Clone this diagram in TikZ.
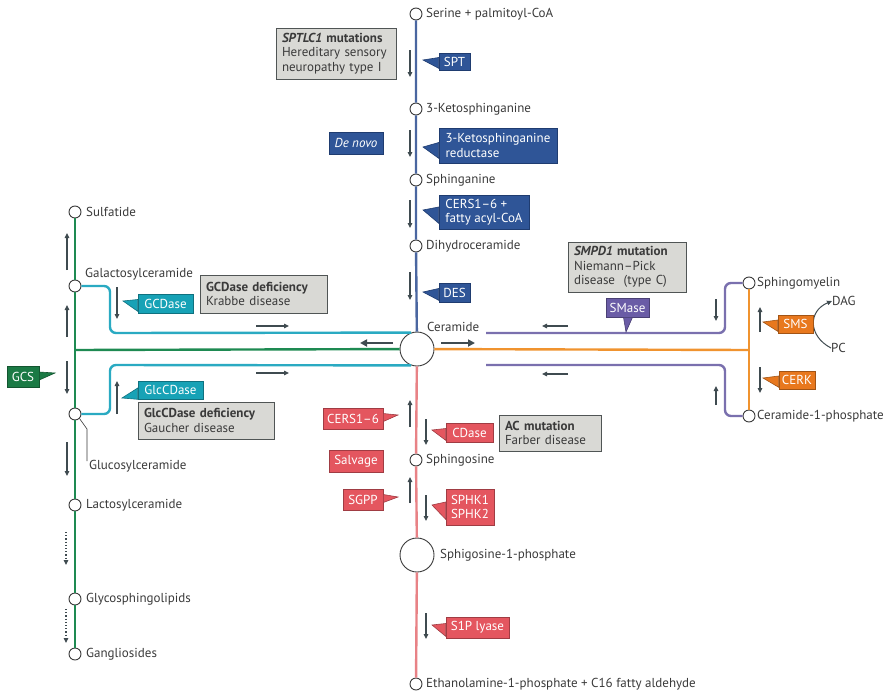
\documentclass[tikz,border=0pt]{standalone}
\usepackage{fontspec}
\setmainfont{PT Sans}
\usetikzlibrary{arrows.meta}

\newcommand{\labfont}{\fontsize{13}{14.5}\selectfont}

\definecolor{txt}{HTML}{3A3A3A}
\definecolor{arr}{HTML}{3F4B50}
\definecolor{blueL}{HTML}{4A66A0}
\definecolor{blueF}{HTML}{2F5597}
\definecolor{blueD}{HTML}{1F3C70}
\definecolor{greenL}{HTML}{1E8A52}
\definecolor{greenF}{HTML}{1B7A45}
\definecolor{cyanL}{HTML}{2AAAC2}
\definecolor{cyanF}{HTML}{17A2B6}
\definecolor{purpL}{HTML}{7A70AE}
\definecolor{purpF}{HTML}{6A5CA6}
\definecolor{orL}{HTML}{F0932F}
\definecolor{orF}{HTML}{E8781E}
\definecolor{redL}{HTML}{E88286}
\definecolor{redF}{HTML}{E4565F}
\definecolor{grayF}{HTML}{D9D9D5}
\definecolor{grayD}{HTML}{505555}

\begin{document}
\begin{tikzpicture}[x=1pt, y=-1pt,
        met/.style={circle, draw=txt, fill=white, line width=0.9pt, inner sep=0pt, minimum size=12pt},
        hub/.style={met, minimum size=34pt},
        lbl/.style={anchor=west, inner sep=0pt, text=txt, font=\labfont},
        enz/.style={inner sep=0pt, text=white, font=\labfont, align=left, line width=0.6pt},
        bluebox/.style={enz, fill=blueF, draw=blueD},
        greenbox/.style={enz, fill=greenF, draw=greenF!70!black},
        cyanbox/.style={enz, fill=cyanF, draw=cyanF!70!black},
        purpbox/.style={enz, fill=purpF, draw=purpF!70!black},
        orbox/.style={enz, fill=orF, draw=orF!70!black},
        redbox/.style={enz, fill=redF, draw=redF!70!black},
        disease/.style={fill=grayF, draw=grayD, line width=0.8pt, inner xsep=6pt, inner ysep=0pt, align=left, text=txt, font=\labfont},
        route/.style={line width=2.4pt},
        flow/.style={draw=arr, line width=1.2pt, -{Triangle[length=5pt, width=4.5pt]}},
        bigflow/.style={draw=arr, line width=2.6pt, -{Triangle[length=7pt, width=7pt]}},
        leader/.style={draw=txt, line width=0.6pt},
    ]
    \useasboundingbox (0,0) rectangle (891,696);

    % metabolites, de novo branch
    \node[met] (ser) at (416,14) {};
    \node[met] (ket) at (416,109) {};
    \node[met] (sph) at (416,180) {};
    \node[met] (dih) at (416,246) {};
    \node[hub] (cer) at (417,349) {};
    \node[met] (sgo) at (416,460) {};
    \node[hub] (s1p) at (417,555) {};
    \node[met] (eth) at (416,684) {};

    % glycosphingolipid branch
    \node[met] (sulf) at (75,212) {};
    \node[met] (gal) at (75,286) {};
    \node[met] (glc) at (75,414) {};
    \node[met] (lac) at (75,505) {};
    \node[met] (gly) at (75,599) {};
    \node[met] (gang) at (75,654) {};

    % sphingomyelin branch
    \node[met] (smy) at (749,283) {};
    \node[met] (c1p) at (749,416) {};

    \coordinate (gj) at (75,350);
    \coordinate (oj) at (749,350);
    \coordinate (pu) at (486,333);
    \coordinate (pl) at (486,365);

    \draw[route, blueL] (ser) -- (ket) -- (sph) -- (dih) -- (cer);
    \draw[route, redL] (cer) -- (sgo) -- (s1p) -- (eth);
    \draw[route, greenL] (sulf) -- (gal) -- (glc) -- (lac) -- (gly) -- (gang);
    \draw[route, greenL] (gj) -- (cer);
    \draw[route, orL] (cer) -- (oj);
    \draw[route, orL] (smy) -- (c1p);
    \draw[route, cyanL, rounded corners=6pt] (gal) -- (110,286) -- (110,333) -- (cer.110);
    \draw[route, cyanL, rounded corners=6pt] (cer.250) -- (110,365) -- (110,414) -- (glc);
    \draw[route, purpL, rounded corners=6pt] (pu) -- (725,333) -- (725,283) -- (smy);
    \draw[route, purpL, rounded corners=6pt] (pl) -- (725,365) -- (725,416) -- (c1p);

    % metabolite labels
    \node[lbl] (serl) at (426,14) {Serine + palmitoyl-CoA};
    \node[lbl] (ketl) at (426,109) {3-Ketosphinganine};
    \node[lbl] (sphl) at (426,180) {Sphinganine};
    \node[lbl] (dihl) at (426,246) {Dihydroceramide};
    \node[lbl] (cerl) at (427,327) {Ceramide};
    \node[lbl] (sgol) at (426,460) {Sphingosine};
    \node[lbl] (s1pl) at (440,555) {Sphigosine-1-phosphate};
    \node[lbl] (ethl) at (426,684) {Ethanolamine-1-phosphate + C16 fatty aldehyde};
    \node[lbl] (sulfl) at (86,212) {Sulfatide};
    \node[lbl] (gall) at (85,274) {Galactosylceramide};
    \node[lbl] (glcl) at (89,466) {Glucosylceramide};
    \node[lbl] (lacl) at (86,505) {Lactosylceramide};
    \node[lbl] (glyl) at (86,599) {Glycosphingolipids};
    \node[lbl] (gangl) at (86,654) {Gangliosides};
    \node[lbl] (smyl) at (757,283) {Sphingomyelin};
    \node[lbl] (c1pl) at (757,416) {Ceramide-1-phosphate};
    \node[lbl] (dag) at (832,301) {DAG};
    \node[lbl] (pc) at (831,348) {PC};

    \draw[leader] (glc.-45) -- (87,429) -- (87,461);
    \draw[draw=arr, line width=1pt, -{Triangle[length=5pt, width=4.5pt]}] (pc.west) .. controls (808,336) and (808,311) .. (dag.west);

    % enzymes
    \node[bluebox, minimum width=31pt, minimum height=17pt] (spt) at (454.5,61.5) {SPT};
    \filldraw[bluebox] ([yshift=4pt]spt.west) -- (423,60) -- ([yshift=2pt]spt.south west) -- cycle;
    \node[bluebox, minimum width=118pt, minimum height=35pt] (ksr) at (498,145.5) {3-Ketosphinganine\\reductase};
    \filldraw[bluebox] ([yshift=3pt]ksr.west) -- (423,147) -- ([yshift=5pt]ksr.south west) -- cycle;
    \node[bluebox, minimum width=90pt, minimum height=34pt] (cersb) at (484,212) {CERS1--6 +\\fatty acyl-CoA};
    \filldraw[bluebox] ([yshift=5pt]cersb.west) -- (423,210) -- ([yshift=6pt]cersb.south west) -- cycle;
    \node[bluebox, minimum width=31pt, minimum height=19pt] (des) at (454.5,292.5) {DES};
    \filldraw[bluebox] ([yshift=4pt]des.west) -- (423,292) -- ([yshift=2pt]des.south west) -- cycle;
    \node[bluebox, minimum width=54pt, minimum height=22pt, font=\labfont\itshape] (denovo) at (356,143) {De novo};

    \node[cyanbox, minimum width=55pt, minimum height=19pt] (gcd) at (165.5,303.5) {GCDase};
    \filldraw[cyanbox] ([yshift=4pt]gcd.west) -- (123,301) -- ([yshift=2pt]gcd.south west) -- cycle;
    \node[cyanbox, minimum width=65pt, minimum height=18pt] (glcd) at (170.5,390) {GlcCDase};
    \filldraw[cyanbox] ([yshift=2pt]glcd.west) -- (122,398) -- (glcd.south west) -- cycle;

    \node[greenbox, minimum width=32pt, minimum height=21pt] (gcs) at (23,376.5) {GCS};
    \filldraw[greenbox] ([yshift=4.5pt]gcs.east) -- (55,373) -- ([yshift=-3.5pt]gcs.east) -- cycle;

    \node[purpbox, minimum width=43pt, minimum height=19pt] (smase) at (627.5,307.5) {SMase};
    \filldraw[purpbox] ([xshift=-4pt]smase.south) -- (626,332) -- ([xshift=5pt]smase.south) -- cycle;

    \node[orbox, minimum width=35pt, minimum height=18pt] (sms) at (795.5,324) {SMS};
    \filldraw[orbox] ([yshift=4pt]sms.west) -- (763,322) -- ([yshift=2pt]sms.south west) -- cycle;
    \node[orbox, minimum width=36pt, minimum height=18pt] (cerk) at (797,380) {CERK};
    \filldraw[orbox] ([yshift=4pt]cerk.west) -- (763,378) -- ([yshift=2pt]cerk.south west) -- cycle;

    \node[redbox, minimum width=60pt, minimum height=21pt] (cersr) at (353,418.5) {CERS1--6};
    \filldraw[redbox] ([yshift=5pt]cersr.east) -- (398,415) -- ([yshift=-3pt]cersr.east) -- cycle;
    \node[redbox, minimum width=47pt, minimum height=19pt] (cdase) at (469.5,432.5) {CDase};
    \filldraw[redbox] ([yshift=4pt]cdase.west) -- (432,430) -- ([yshift=2pt]cdase.south west) -- cycle;
    \node[redbox, minimum width=54pt, minimum height=22pt] (salv) at (356,461) {Salvage};
    \node[redbox, minimum width=40pt, minimum height=21pt] (sgpp) at (363,499.5) {SGPP};
    \filldraw[redbox] ([yshift=5pt]sgpp.east) -- (398,497) -- ([yshift=-3pt]sgpp.east) -- cycle;
    \node[redbox, minimum width=48pt, minimum height=36pt] (sphk) at (470,507) {SPHK1\\SPHK2};
    \filldraw[redbox] ([yshift=5pt]sphk.west) -- (432,505) -- ([yshift=6pt]sphk.south west) -- cycle;
    \node[redbox, minimum width=63pt, minimum height=21pt] (s1plyase) at (477.5,627.5) {S1P lyase};
    \filldraw[redbox] ([yshift=4pt]s1plyase.west) -- (432,625) -- ([yshift=2pt]s1plyase.south west) -- cycle;

    % diseases
    \node[disease, text width=108pt, minimum height=51pt] (sptlc) at (336,53.5) {\textbf{\textit{SPTLC1} mutations}\\Hereditary sensory\\neuropathy type I};
    \node[disease, text width=115pt, minimum height=38pt] (gcdd) at (263.5,294) {\textbf{GCDase deficiency}\\Krabbe disease};
    \node[disease, text width=124pt, minimum height=37pt] (glcdd) at (206,420.5) {\textbf{GlcCDase deficiency}\\Gaucher disease};
    \node[disease, text width=106pt, minimum height=50pt] (smpd) at (627,267) {\textbf{\textit{SMPD1} mutation}\\Niemann--Pick\\disease\ \ (type C)};
    \node[disease, text width=90pt, minimum height=36pt] (acm) at (550,433) {\textbf{AC mutation}\\Farber disease};

    % reaction directions
    \foreach \x/\ya/\yb in {410/50/77, 410/130/157, 410/200/228, 410/272/300,
            67/270/233, 67/337/305, 67/361/394, 67/442/476,
            117/287/319, 117/414/381,
            716/299/321, 716/405/386, 760/332/307, 760/367/393,
            410/427/400, 426/419/445, 410/503/477, 426/495/521, 426/613/639}
        \draw[flow] (\x,\ya) -- (\x,\yb);
    \foreach \ya/\yb in {532/565, 609/643}
        \draw[flow, dotted] (66,\ya) -- (66,\yb);
    \foreach \xa/\xb/\y in {256/289/326, 256/289/373, 568/542/326, 568/542/374}
        \draw[flow] (\xa,\y) -- (\xb,\y);
    \draw[bigflow] (393,343) -- (360,343);
    \draw[bigflow] (441,343) -- (475,343);
\end{tikzpicture}
\end{document}
